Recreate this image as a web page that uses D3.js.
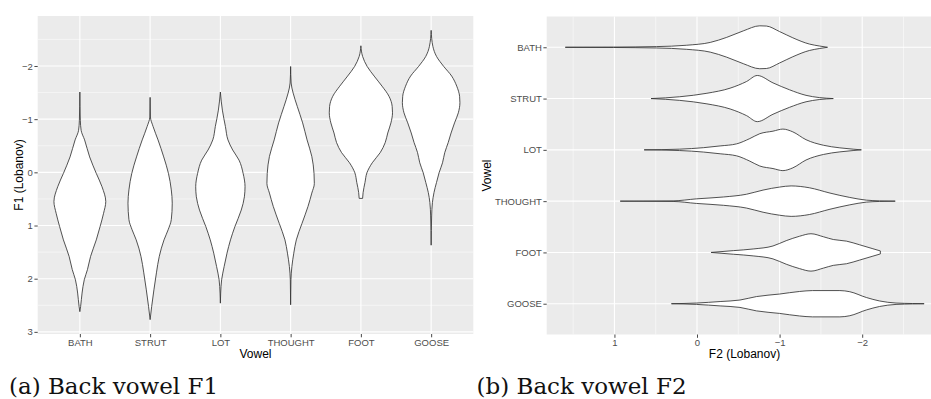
<!DOCTYPE html>
<html>
<head>
<meta charset="utf-8">
<script src="https://cdn.jsdelivr.net/npm/d3@7"></script>
<style>
  html, body { margin: 0; padding: 0; background: #fff; }
  svg { display: block; }
</style>
</head>
<body>
<svg id="chart" width="931" height="399"></svg>
<script>
// Vowel categories (same order in both panels)
const vowels = ["BATH", "STRUT", "LOT", "THOUGHT", "FOOT", "GOOSE"];

// Axis ticks
const f1Ticks = [-2, -1, 0, 1, 2, 3];
const f1MinorTicks = [-2.5, -1.5, -0.5, 0.5, 1.5, 2.5];
const f2Ticks = [1, 0, -1, -2];
const f2MinorTicks = [1.5, 0.5, -0.5, -1.5, -2.5];

// F1 (Lobanov) density profiles: [value, relative density]
const f1Bath = [[-1.51,0],[-0.98,0.015],[-0.79,0.04],[-0.61,0.15],[-0.29,0.31],[0.02,0.52],[0.27,0.70],[0.55,0.82],[0.77,0.75],[1.02,0.64],[1.27,0.52],[1.58,0.34],[1.83,0.24],[2.02,0.14],[2.27,0.07],[2.52,0.025],[2.62,0]];
const f1Strut = [[-1.41,0],[-1.04,0.01],[-0.86,0.095],[-0.61,0.25],[-0.29,0.43],[0.02,0.58],[0.33,0.67],[0.58,0.70],[0.89,0.67],[1.08,0.57],[1.27,0.44],[1.58,0.29],[1.89,0.20],[2.21,0.12],[2.52,0.05],[2.77,0]];
const f1Lot = [[-1.51,0],[-1.17,0.063],[-0.86,0.16],[-0.61,0.24],[-0.42,0.39],[-0.23,0.59],[0.02,0.72],[0.27,0.78],[0.46,0.76],[0.71,0.66],[1.02,0.46],[1.27,0.32],[1.52,0.21],[1.77,0.12],[2.02,0.04],[2.27,0.01],[2.46,0]];
const f1Thought = [[-1.99,0],[-1.68,0.016],[-1.49,0.08],[-1.24,0.21],[-0.93,0.38],[-0.61,0.52],[-0.30,0.67],[0.02,0.74],[0.21,0.75],[0.39,0.67],[0.64,0.55],[0.96,0.36],[1.27,0.18],[1.52,0.10],[1.77,0.04],[2.02,0.01],[2.49,0]];
const f1Foot = [[-2.38,0],[-2.18,0.054],[-1.99,0.20],[-1.81,0.42],[-1.62,0.67],[-1.43,0.89],[-1.24,0.99],[-1.12,1.0],[-0.93,0.95],[-0.74,0.85],[-0.56,0.77],[-0.37,0.61],[-0.18,0.36],[0.01,0.19],[0.19,0.13],[0.38,0.07],[0.49,0.054]];
const f1Goose = [[-2.67,0],[-2.37,0.054],[-2.18,0.17],[-1.99,0.40],[-1.81,0.65],[-1.62,0.81],[-1.43,0.90],[-1.31,0.91],[-1.12,0.86],[-0.93,0.74],[-0.74,0.63],[-0.56,0.54],[-0.37,0.43],[-0.18,0.36],[0.01,0.25],[0.19,0.17],[0.38,0.09],[0.57,0.04],[0.82,0.016],[1.37,0]];

// F2 (Lobanov) density profiles: [value, relative density]
const f2Bath = [[1.595,0],[1.01,0.009],[0.49,0.03],[0.13,0.087],[-0.16,0.21],[-0.36,0.43],[-0.56,0.71],[-0.76,0.93],[-0.84,0.92],[-1.00,0.68],[-1.16,0.41],[-1.36,0.14],[-1.48,0.056],[-1.58,0]];
const f2Strut = [[0.557,0],[0.21,0.078],[-0.12,0.23],[-0.40,0.45],[-0.60,0.74],[-0.73,1.0],[-0.92,0.68],[-1.12,0.38],[-1.32,0.14],[-1.48,0.043],[-1.65,0]];
const f2Lot = [[0.64,0],[0.21,0.03],[-0.08,0.095],[-0.28,0.17],[-0.48,0.26],[-0.64,0.49],[-0.76,0.70],[-0.92,0.81],[-1.04,0.90],[-1.16,0.78],[-1.32,0.44],[-1.53,0.20],[-1.73,0.087],[-1.89,0.03],[-1.99,0]];
const f2Thought = [[0.93,0],[0.29,0.013],[0.005,0.10],[-0.32,0.18],[-0.60,0.30],[-0.80,0.48],[-1.00,0.61],[-1.14,0.66],[-1.36,0.58],[-1.61,0.35],[-1.85,0.16],[-2.05,0.043],[-2.21,0.013],[-2.40,0]];
const f2Foot = [[-0.17,0],[-0.44,0.078],[-0.68,0.15],[-0.92,0.28],[-1.08,0.51],[-1.24,0.70],[-1.38,0.81],[-1.53,0.68],[-1.65,0.56],[-1.81,0.49],[-1.97,0.33],[-2.13,0.16],[-2.22,0.065]];
const f2Goose = [[0.31,0],[0.005,0.03],[-0.28,0.095],[-0.52,0.16],[-0.72,0.31],[-1.00,0.42],[-1.24,0.53],[-1.40,0.57],[-1.73,0.57],[-1.85,0.52],[-2.05,0.27],[-2.21,0.12],[-2.41,0.03],[-2.61,0.009],[-2.75,0]];

const f1Profiles = [f1Bath, f1Strut, f1Lot, f1Thought, f1Foot, f1Goose];
const f2Profiles = [f2Bath, f2Strut, f2Lot, f2Thought, f2Foot, f2Goose];

const svg = d3.select("#chart");
const FONT = "'Liberation Sans', Arial, Helvetica, sans-serif";
const SERIF = "'DejaVu Serif', serif";
const PANEL_BG = "#EBEBEB";
const TICK_TEXT = "#4D4D4D";
const TICK_LINE = "#333333";

function styleAxis(g) {
  g.attr("font-family", FONT);
  g.select(".domain").remove();
  g.selectAll(".tick line").attr("stroke", TICK_LINE).attr("stroke-width", 0.9);
  g.selectAll(".tick text").attr("fill", TICK_TEXT).attr("font-size", 9.5);
}

/* ---------------- Panel (a): F1 by vowel, vertical violins ---------------- */
{
  const L = 37.7, R = 473.3, T = 16, B = 334;
  const x = d3.scalePoint().domain(vowels).range([L, R]).padding(0.6);
  const y = d3.scaleLinear().domain([-2.94, 3.04]).range([T, B]);
  const w = d3.scaleLinear().domain([0, 1]).range([0, 0.45 * x.step()]);

  const g = svg.append("g");
  g.append("rect").attr("x", L).attr("y", T).attr("width", R - L).attr("height", B - T).attr("fill", PANEL_BG);

  // minor grid
  g.append("g").selectAll("line").data(f1MinorTicks).join("line")
    .attr("x1", L).attr("x2", R).attr("y1", d => y(d)).attr("y2", d => y(d))
    .attr("stroke", "#fff").attr("stroke-width", 0.5);
  // major grid
  g.append("g").selectAll("line").data(f1Ticks).join("line")
    .attr("x1", L).attr("x2", R).attr("y1", d => y(d)).attr("y2", d => y(d))
    .attr("stroke", "#fff").attr("stroke-width", 1.1);
  g.append("g").selectAll("line").data(vowels).join("line")
    .attr("x1", d => x(d)).attr("x2", d => x(d)).attr("y1", T).attr("y2", B)
    .attr("stroke", "#fff").attr("stroke-width", 1.1);

  const area = d3.area()
    .curve(d3.curveMonotoneY)
    .y(d => y(d[0]));

  g.append("g").selectAll("path").data(f1Profiles).join("path")
    .attr("d", (p, i) => area.x0(d => x(vowels[i]) - w(d[1])).x1(d => x(vowels[i]) + w(d[1]))(p))
    .attr("fill", "#fff").attr("stroke", "#333").attr("stroke-width", 0.85);

  svg.append("g").attr("transform", `translate(${L},0)`)
    .call(d3.axisLeft(y).tickValues(f1Ticks).tickSize(3.3).tickPadding(1.5).tickFormat(d3.format("d")))
    .call(styleAxis);
  svg.append("g").attr("transform", `translate(0,${B})`)
    .call(d3.axisBottom(x).tickSize(3.3).tickPadding(1.5))
    .call(styleAxis);

  svg.append("text").attr("x", (L + R) / 2).attr("y", 358)
    .attr("text-anchor", "middle").attr("font-family", FONT).attr("font-size", 12).attr("fill", "#000")
    .text("Vowel");
  svg.append("text").attr("transform", `translate(22.5,${(T + B) / 2}) rotate(-90)`)
    .attr("text-anchor", "middle").attr("font-family", FONT).attr("font-size", 12).attr("fill", "#000")
    .text("F1 (Lobanov)");

  svg.append("text").attr("x", 9).attr("y", 393.5)
    .attr("font-family", SERIF).attr("font-size", 23).attr("fill", "#111")
    .text("(a) Back vowel F1");
}

/* ---------------- Panel (b): F2 by vowel, horizontal violins ---------------- */
{
  const L = 546.7, R = 942.3, T = 16.5, B = 334.5;
  const x = d3.scaleLinear().domain([1.82, -2.97]).range([L, R]);
  const y = d3.scalePoint().domain(vowels).range([T, B]).padding(0.6);
  const w = d3.scaleLinear().domain([0, 1]).range([0, 0.45 * y.step()]);

  const g = svg.append("g");
  g.append("rect").attr("x", L).attr("y", T).attr("width", R - L).attr("height", B - T).attr("fill", PANEL_BG);

  g.append("g").selectAll("line").data(f2MinorTicks).join("line")
    .attr("x1", d => x(d)).attr("x2", d => x(d)).attr("y1", T).attr("y2", B)
    .attr("stroke", "#fff").attr("stroke-width", 0.5);
  g.append("g").selectAll("line").data(f2Ticks).join("line")
    .attr("x1", d => x(d)).attr("x2", d => x(d)).attr("y1", T).attr("y2", B)
    .attr("stroke", "#fff").attr("stroke-width", 1.1);
  g.append("g").selectAll("line").data(vowels).join("line")
    .attr("x1", L).attr("x2", R).attr("y1", d => y(d)).attr("y2", d => y(d))
    .attr("stroke", "#fff").attr("stroke-width", 1.1);

  const area = d3.area()
    .curve(d3.curveMonotoneX)
    .x(d => x(d[0]));

  g.append("g").selectAll("path").data(f2Profiles).join("path")
    .attr("d", (p, i) => area.y0(d => y(vowels[i]) - w(d[1])).y1(d => y(vowels[i]) + w(d[1]))(p))
    .attr("fill", "#fff").attr("stroke", "#333").attr("stroke-width", 0.85);

  svg.append("g").attr("transform", `translate(${L},0)`)
    .call(d3.axisLeft(y).tickSize(3.3).tickPadding(1.5))
    .call(styleAxis);
  svg.append("g").attr("transform", `translate(0,${B})`)
    .call(d3.axisBottom(x).tickValues(f2Ticks).tickSize(3.3).tickPadding(1.5).tickFormat(d3.format("d")))
    .call(styleAxis);

  svg.append("text").attr("x", (L + R) / 2).attr("y", 358)
    .attr("text-anchor", "middle").attr("font-family", FONT).attr("font-size", 12).attr("fill", "#000")
    .text("F2 (Lobanov)");
  svg.append("text").attr("transform", `translate(490.5,${(T + B) / 2}) rotate(-90)`)
    .attr("text-anchor", "middle").attr("font-family", FONT).attr("font-size", 12).attr("fill", "#000")
    .text("Vowel");

  svg.append("text").attr("x", 476.5).attr("y", 393.5)
    .attr("font-family", SERIF).attr("font-size", 23).attr("fill", "#111")
    .text("(b) Back vowel F2");
}
</script>
</body>
</html>
